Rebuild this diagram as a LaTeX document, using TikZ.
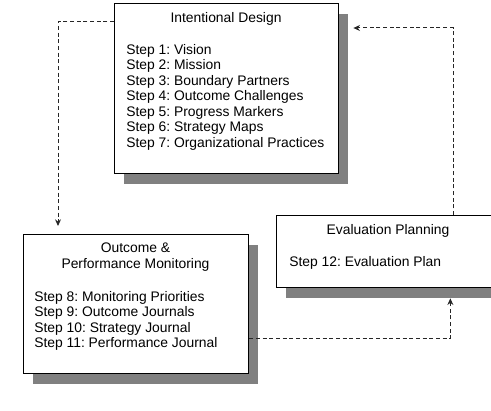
\documentclass[tikz,border=0pt]{standalone}
\usepackage{fontspec}
\setmainfont{Liberation Sans}
\usetikzlibrary{positioning,arrows.meta,calc,shadows}
\frenchspacing

\begin{document}
\begin{tikzpicture}[
  x=0.75pt, y=-0.75pt,
  font=\fontsize{10.4}{11.6}\selectfont,
  >={Stealth[length=5pt,width=4.5pt]},
  stagebox/.style={draw=black, line width=1pt, fill=white, anchor=north west, inner sep=0pt,
    drop shadow={shadow xshift=6.75pt, shadow yshift=-7.5pt, fill=black!50, opacity=1}},
  stagetitle/.style={anchor=base, inner sep=0pt, align=center},
  steplist/.style={anchor=north west, inner sep=0pt, align=left},
  cycleflow/.style={->, draw=black!85, line width=0.75pt, dash pattern=on 3pt off 2pt}
]
  \clip (0,0) rectangle (491,410);

  \node[stagebox, minimum width=168pt, minimum height=127.5pt] (design) at (114,3) {};
  \node[stagebox, minimum width=168.75pt, minimum height=104.25pt] (monitor) at (23,234) {};
  \node[stagebox, minimum width=168pt, minimum height=54pt] (evalplan) at (276,215) {};

  \node[stagetitle] (designtitle) at (226,23) {Intentional Design};
  \node[steplist] (designsteps) at (126,44) {Step 1: Vision\\Step 2: Mission\\Step 3: Boundary Partners\\Step 4: Outcome Challenges\\Step 5: Progress Markers\\Step 6: Strategy Maps\\Step 7: Organizational Practices};

  \node[stagetitle] (monitortitle) at (135.5,268) {Outcome \&\\Performance Monitoring};
  \node[steplist] (monitorsteps) at (34,291) {Step 8: Monitoring Priorities\\Step 9: Outcome Journals\\Step 10: Strategy Journal\\Step 11: Performance Journal};

  \node[stagetitle] (evaltitle) at (388,234) {Evaluation Planning};
  \node[steplist] (evalsteps) at (289,256) {Step 12: Evaluation Plan};

  \draw[cycleflow] ($(design.north west)+(0,19)$) -| ([xshift=26.25pt,yshift=6pt]monitor.north west);
  \draw[cycleflow] ($(monitor.south east)+(0,-36)$) -| ([xshift=-38.25pt,yshift=-7.5pt]evalplan.south east);
  \draw[cycleflow] ([xshift=-36pt]evalplan.north east) |- ($(design.north east)+(14,25)$);
\end{tikzpicture}
\end{document}
